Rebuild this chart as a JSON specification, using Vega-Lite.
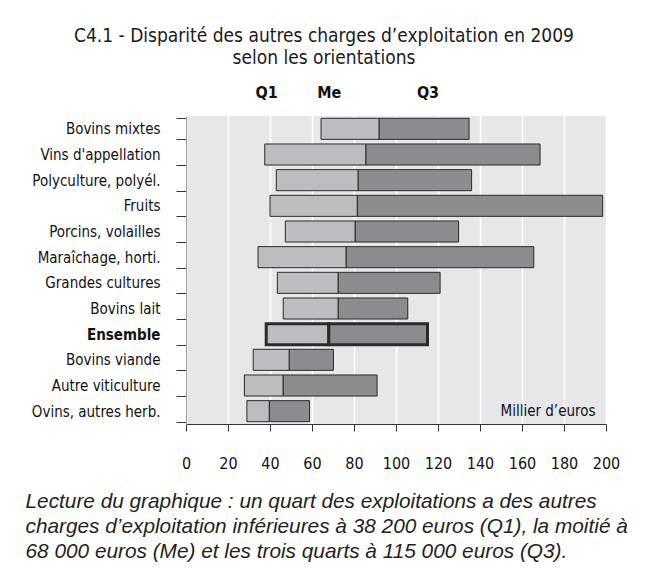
{
  "$schema": "https://vega.github.io/schema/vega-lite/v6.json",
  "width": 420,
  "height": 308,
  "autosize": {"type": "none"},
  "padding": {"left": 186, "top": 116, "right": 40, "bottom": 147},
  "background": "white",
  "title": {
    "text": ["C4.1 - Disparité des autres charges d’exploitation en 2009", "selon les orientations"],
    "font": "DejaVu Sans Condensed, sans-serif",
    "fontSize": 19,
    "fontWeight": "normal",
    "color": "#1a1a1a",
    "anchor": "middle",
    "dx": -72,
    "lineHeight": 22,
    "offset": 16
  },
  "datasets": {
    "rows": [
      {"orientation": "Bovins mixtes", "q1": 64.3, "me": 92, "q3": 134.8},
      {"orientation": "Vins d'appellation", "q1": 37.5, "me": 85.7, "q3": 168.6},
      {"orientation": "Polyculture, polyél.", "q1": 43, "me": 82, "q3": 136},
      {"orientation": "Fruits", "q1": 40, "me": 81.6, "q3": 198.4},
      {"orientation": "Porcins, volailles", "q1": 47.3, "me": 80.6, "q3": 129.8},
      {"orientation": "Maraîchage, horti.", "q1": 34.3, "me": 76.3, "q3": 165.6},
      {"orientation": "Grandes cultures", "q1": 43.5, "me": 72.5, "q3": 121},
      {"orientation": "Bovins lait", "q1": 46.3, "me": 72.5, "q3": 105.6},
      {"orientation": "Ensemble", "q1": 38.2, "me": 68, "q3": 115},
      {"orientation": "Bovins viande", "q1": 32, "me": 49.2, "q3": 70.2},
      {"orientation": "Autre viticulture", "q1": 27.8, "me": 46.3, "q3": 91},
      {"orientation": "Ovins, autres herb.", "q1": 29, "me": 39.7, "q3": 58.8}
    ],
    "note": [
      {"orientation": "Ovins, autres herb.", "x": 195, "label": "Millier d’euros"}
    ]
  },
  "layer": [
    {
      "data": {"name": "rows"},
      "mark": {"type": "bar", "fill": "#bcbdc0", "stroke": "#2a2a2a"},
      "encoding": {
        "y": {
          "field": "orientation", "type": "nominal", "sort": null,
          "scale": {"paddingInner": 0.18, "paddingOuter": 0.09},
          "axis": {
            "title": null,
            "domainColor": "#a0a0a0",
            "tickColor": "#333333",
            "tickSize": 10,
            "tickBand": "extent",
            "labelPadding": 16,
            "labelFontSize": 15,
            "labelFont": "DejaVu Sans Condensed, sans-serif",
            "labelColor": "#111111",
            "labelFontWeight": {"condition": {"test": "datum.value === 'Ensemble'", "value": "bold"}, "value": "normal"}
          }
        },
        "x": {
          "field": "q1", "type": "quantitative",
          "scale": {"domain": [0, 200], "nice": false},
          "axis": {
            "orient": "bottom",
            "values": [0, 20, 40, 60, 80, 100, 120, 140, 160, 180, 200],
            "labelOverlap": false,
            "labelFlush": false,
            "grid": true,
            "gridColor": "white",
            "gridWidth": 1.5,
            "domainColor": "#333333",
            "tickColor": "#333333",
            "tickSize": 7,
            "labelPadding": 24,
            "labelFontSize": 16,
            "labelFont": "DejaVu Sans Condensed, sans-serif",
            "labelColor": "#111111",
            "title": [
              "Lecture du graphique : un quart des exploitations a des autres",
              "charges d’exploitation inférieures à 38 200 euros (Q1), la moitié à",
              "68 000 euros (Me) et les trois quarts à 115 000 euros (Q3)."
            ],
            "titleFont": "Liberation Sans, Arial, sans-serif",
            "titleFontStyle": "italic",
            "titleFontWeight": "normal",
            "titleFontSize": 20.8,
            "titleColor": "#231f20",
            "titleAlign": "left",
            "titleBaseline": "top",
            "titleX": -161,
            "titleY": 67,
            "titleLineHeight": 25
          }
        },
        "x2": {"field": "me"},
        "strokeWidth": {"condition": {"test": "datum.orientation === 'Ensemble'", "value": 3}, "value": 1}
      }
    },
    {
      "data": {"name": "rows"},
      "mark": {"type": "bar", "fill": "#8b8c8f", "stroke": "#2a2a2a"},
      "encoding": {
        "y": {"field": "orientation", "type": "nominal", "sort": null},
        "x": {"field": "me", "type": "quantitative", "axis": null},
        "x2": {"field": "q3"},
        "strokeWidth": {"condition": {"test": "datum.orientation === 'Ensemble'", "value": 3}, "value": 1}
      }
    },
    {
      "data": {"name": "note"},
      "mark": {"type": "text", "align": "right", "baseline": "middle", "fontSize": 15, "fontWeight": "normal", "font": "DejaVu Sans Condensed, sans-serif", "color": "#111111"},
      "encoding": {
        "y": {"field": "orientation", "type": "nominal", "sort": null},
        "x": {
          "field": "x", "type": "quantitative",
          "axis": {
            "orient": "top",
            "values": [38.2, 68, 115],
            "labelExpr": "datum.value < 50 ? 'Q1' : (datum.value < 90 ? 'Me' : 'Q3')",
            "domain": false,
            "ticks": false,
            "grid": false,
            "labelPadding": 16,
            "labelFontSize": 16,
            "labelFontWeight": "bold",
            "labelFont": "DejaVu Sans Condensed, sans-serif",
            "labelColor": "#111111",
            "title": null
          }
        },
        "text": {"field": "label"}
      }
    }
  ],
  "resolve": {"axis": {"x": "independent"}},
  "config": {
    "view": {"fill": "#e6e7e8", "stroke": null}
  }
}
